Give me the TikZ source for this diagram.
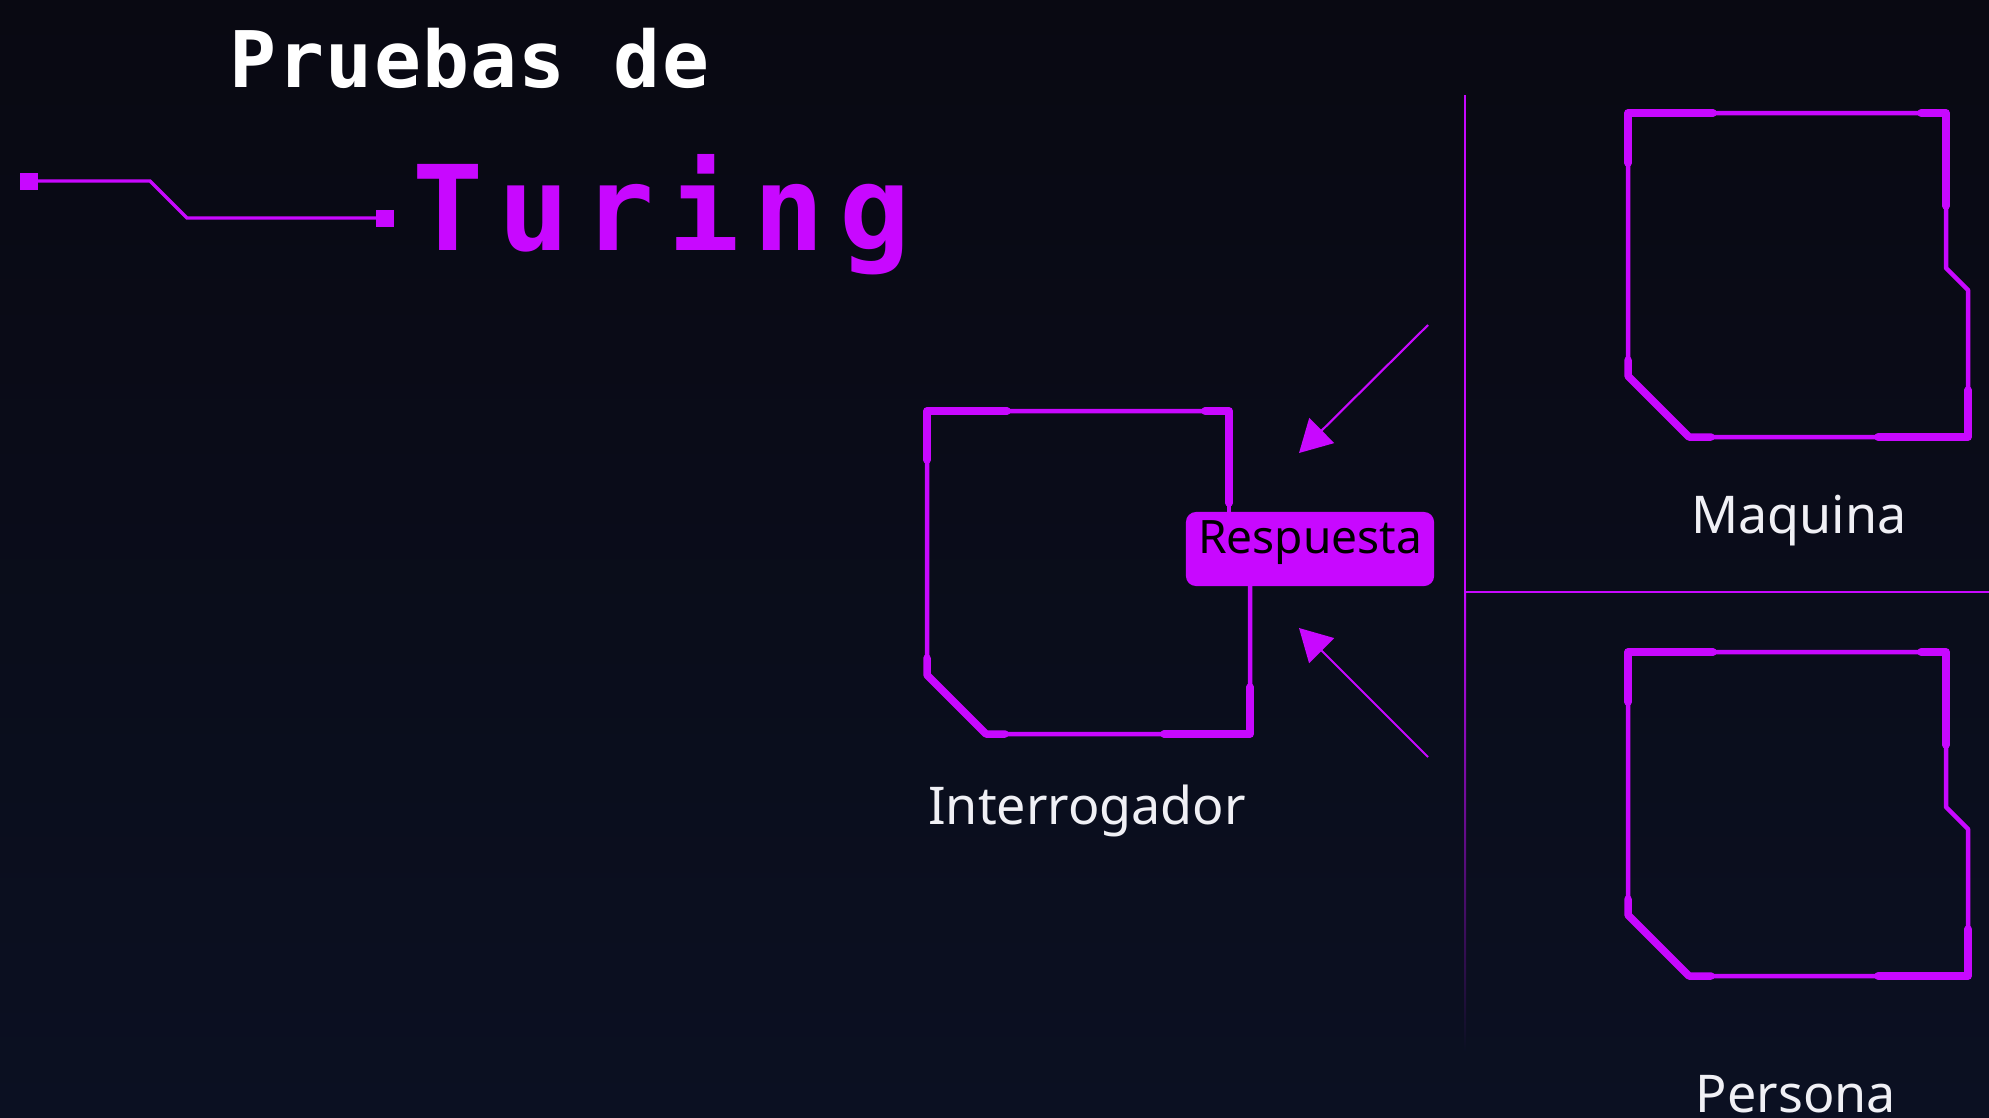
\documentclass[tikz,border=0pt]{standalone}
\usepackage{fontspec}
\setmainfont{Noto Sans}
\newfontfamily\monofam{DejaVu Sans Mono}[LetterSpace=1.5]
\newfontfamily\turingfont{DejaVu Sans Mono}[LetterSpace=12]
\usetikzlibrary{arrows.meta}
\definecolor{mag}{RGB}{200,8,255}
\definecolor{bgtop}{RGB}{9,9,18}
\definecolor{bgbot}{RGB}{11,16,34}
\definecolor{labelgray}{RGB}{240,240,245}
\tikzset{
  thinline/.style={draw=mag, line width=1.28pt, line join=round, line cap=round},
  thickline/.style={draw=mag, line width=2.13pt, line join=round, line cap=round},
  divider/.style={draw=mag, line width=0.6pt},
  pointer/.style={draw=mag, fill=mag, line width=0.6pt, -{Triangle[length=0.32cm,width=0.35cm]}},
  pad/.style={fill=mag, inner sep=0pt, minimum width=0.18cm, minimum height=0.17cm},
  trace/.style={draw=mag, line width=0.95pt},
  lbl/.style={anchor=base, inner sep=0pt, text=labelgray, font=\fontsize{14.8}{18}\selectfont},
  respbox/.style={fill=mag, rounded corners=0.1cm, minimum width=2.48cm, inner xsep=0pt, inner ysep=0pt,
    text height=0.41cm, text depth=0.33cm, text=black, font=\fontsize{13.1}{15}\selectfont},
}
\begin{document}
\begin{tikzpicture}[x=0.01cm,y=-0.01cm]
\useasboundingbox (0,0) rectangle (1989,1117);
\shade[top color=bgtop, bottom color=bgbot] (0,0) rectangle (1989,1117);

% title
\node[anchor=base west, inner sep=0pt, text=white, font=\monofam\bfseries\fontsize{22.2}{26}\selectfont] (t1) at (229,87) {Pruebas de};
\node[anchor=base west, inner sep=0pt, text=mag, font=\turingfont\bfseries\fontsize{33.6}{40}\selectfont] (t2) at (412,250) {Turing};

% circuit trace
\node[pad] (sq1) at (29,181) {};
\node[pad] (sq2) at (385,218) {};
\draw[trace] (sq1.center) -- (150,181) -- (187,218) -- (sq2.center);

% dividers
\draw[divider] (1465,95) -- (1465,592);
\draw[divider] (1465,592) -- (1989,592);
\shade[top color=mag, bottom color=bgbot] (1464,592) rectangle (1466,1050);

% Interrogador frame
\draw[thinline] (1229,411) -- (927,411) -- (927,675) -- (986,734) -- (1250,734) -- (1250,586);
\draw[thinline] (1229,411) -- (1229,512);
\draw[thickline] (927,460) -- (927,411) -- (1007,411);
\draw[thickline] (1205,411) -- (1229,411) -- (1229,503);
\draw[thickline] (1250,687) -- (1250,734) -- (1164,734);
\draw[thickline] (1005,734) -- (986,734) -- (927,675) -- (927,658);
\node[respbox] (resp) at (1310,549) {Respuesta};

% Maquina & Persona frames
\foreach \dy in {0,539}{
\begin{scope}[shift={(0,\dy)}]
\draw[thinline] (1628,113) -- (1946,113) -- (1946,268) -- (1968,290) -- (1968,437) -- (1689,437) -- (1628,376) -- cycle;
\draw[thickline] (1628,163) -- (1628,113) -- (1713,113);
\draw[thickline] (1921,113) -- (1946,113) -- (1946,206);
\draw[thickline] (1968,390) -- (1968,437) -- (1878,437);
\draw[thickline] (1711,437) -- (1689,437) -- (1628,376) -- (1628,360);
\end{scope}
}

% arrows
\coordinate (a1s) at (1428,325);
\coordinate (a1e) at (1299,453);
\coordinate (a2s) at (1428,757);
\coordinate (a2e) at (1299,628);
\draw[pointer] (a1s) -- (a1e);
\draw[pointer] (a2s) -- (a2e);

% labels
\node[lbl] (lm) at (1799,533) {Maquina};
\node[lbl] (li) at (1087,824) {Interrogador};
\node[lbl] (lp) at (1796,1112) {Persona};
\end{tikzpicture}
\end{document}
